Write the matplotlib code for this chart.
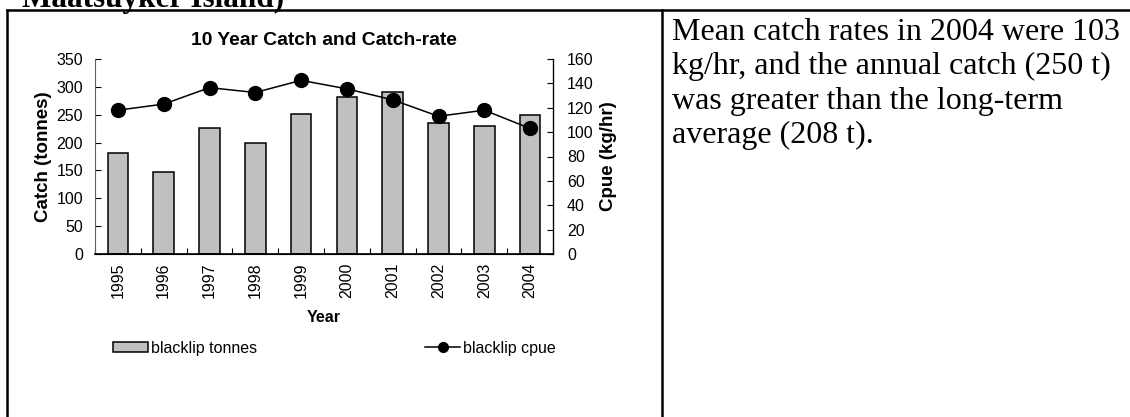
import matplotlib
matplotlib.use("Agg")
import matplotlib.pyplot as plt
from matplotlib.lines import Line2D
from matplotlib.patches import Patch
import numpy as np

# ==========================================
# 1. DATA
# ==========================================
years = ["1995", "1996", "1997", "1998", "1999", "2000", "2001", "2002", "2003", "2004"]
catch_tonnes = [182, 148, 227, 199, 251, 281, 290, 236, 229, 250]
cpue = [118, 123, 136.5, 132.5, 142.5, 135.5, 126.5, 113, 118, 103]

chart_title = "10 Year Catch and Catch-rate"
heading_text = "Maatsuyker Island)"
side_text = [
    "Mean catch rates in 2004 were 103",
    "kg/hr, and the annual catch (250 t)",
    "was greater than the long-term",
    "average (208 t).",
]

W, H = 1130, 417
plt.rcParams["font.family"] = ["Liberation Sans", "DejaVu Sans"]

fig = plt.figure(figsize=(W / 100, H / 100), dpi=100)

def fx(px):
    return px / W

def fy(py):
    return 1 - py / H

# ==========================================
# 2. TABLE BORDERS + PAGE TEXT
# ==========================================
border_kw = dict(color="black", lw=1.8, transform=fig.transFigure)
fig.add_artist(Line2D([fx(7), 1], [fy(9.7), fy(9.7)], **border_kw))
fig.add_artist(Line2D([fx(7), fx(7)], [fy(9.7), 0], **border_kw))
fig.add_artist(Line2D([fx(662), fx(662)], [fy(9.7), 0], **border_kw))

# heading of the page, cut at the top edge like in the scan
fig.text(fx(22), fy(7), heading_text, family="Liberation Serif", fontweight="bold",
         fontsize=22.5, va="baseline", ha="left")

for i, line in enumerate(side_text):
    fig.text(fx(672), fy(40 + i * 34.3), line, family="Liberation Serif",
             fontsize=23, va="baseline", ha="left")

# ==========================================
# 3. CHART
# ==========================================
ax = fig.add_axes([fx(95), fy(254), fx(553) - fx(95), fy(59) - fy(254)])
ax2 = ax.twinx()

x = np.arange(len(years))
ax.bar(x, catch_tonnes, width=0.45, color="#c0c0c0", edgecolor="black", linewidth=1.1,
       zorder=2)
ax2.plot(x, cpue, color="black", lw=1.1, marker="o", markersize=10, zorder=3)

ax.set_xlim(-0.5, len(years) - 0.5)
ax.set_ylim(0, 350)
ax2.set_ylim(0, 160)
ax.set_yticks(np.arange(0, 351, 50))
ax2.set_yticks(np.arange(0, 161, 20))

# year labels in the middle, tick marks on the boundaries
ax.set_xticks(x)
ax.set_xticklabels(years, rotation=90, fontsize=11.5)
ax.set_xticks(np.arange(-0.5, len(years)), minor=True)
ax.tick_params(axis="x", which="major", length=0, pad=6)
ax.tick_params(axis="x", which="minor", direction="in", length=4, width=0.8)
ax.tick_params(axis="y", direction="in", length=4.5, width=0.8, labelsize=11.5, pad=8.5)
ax2.tick_params(axis="y", direction="in", length=4.5, width=0.8, labelsize=11.5, pad=10)

for a in (ax, ax2):
    a.spines["top"].set_visible(False)
ax.spines["left"].set_color("#606060")
ax2.spines["left"].set_visible(False)
ax.spines["bottom"].set_linewidth(1.2)
ax2.spines["right"].set_linewidth(0.9)

ax.set_title(chart_title, fontsize=13.9, fontweight="bold", pad=10)
ax.text(-0.1135, 0.5, "Catch (tonnes)", transform=ax.transAxes, rotation=90,
        ha="center", va="center", fontsize=13.5, fontweight="bold")
ax.text(1.122, 0.5, "Cpue (kg/hr)", transform=ax.transAxes, rotation=90,
        ha="center", va="center", fontsize=13.5, fontweight="bold")
fig.text(fx(324), fy(318), "Year", ha="center", va="center", fontsize=11.5,
         fontweight="bold")

# ==========================================
# 4. LEGEND
# ==========================================
bar_handle = Patch(facecolor="#c0c0c0", edgecolor="black", linewidth=1.1)
line_handle = Line2D([], [], color="black", lw=1.1, marker="o", markersize=7)
leg_kw = dict(frameon=False, fontsize=11.5, borderpad=0, borderaxespad=0,
              handletextpad=0.2, loc="center left")
fig.legend([bar_handle], ["blacklip tonnes"], bbox_to_anchor=(fx(113), fy(348)),
           handlelength=2.2, handleheight=0.6, **leg_kw)
fig.legend([line_handle], ["blacklip cpue"], bbox_to_anchor=(fx(425), fy(348)),
           handlelength=2.2, **leg_kw)

fig.savefig("out.png", dpi=100)
